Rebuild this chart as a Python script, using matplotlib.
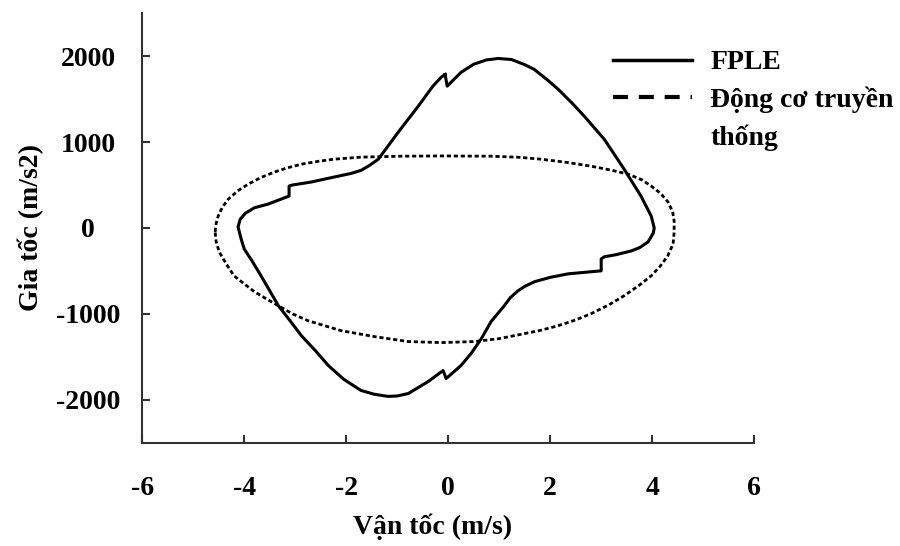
import matplotlib
matplotlib.use("Agg")
import matplotlib.pyplot as plt
from matplotlib.lines import Line2D

plt.rcParams['font.family'] = ['Liberation Serif', 'DejaVu Serif']
plt.rcParams['font.weight'] = 'bold'
plt.rcParams['axes.labelweight'] = 'bold'
plt.rcParams['axes.unicode_minus'] = False

# FPLE loop: velocity (m/s) and acceleration (m/s2), clockwise from the top step
fple_v = [-0.06, -0.02, 0.25, 0.5, 0.75, 0.98, 1.24, 1.5, 1.69, 1.95, 2.16, 2.45, 2.67,
          3.06, 3.45, 3.78, 3.98, 4.04, 4.02, 3.92, 3.75, 3.59, 3.3, 3.06, 3.0, 3.0,
          2.7, 2.35, 2.0, 1.69, 1.5, 1.37, 1.22, 1.10, 0.84, 0.65, 0.45, 0.25, -0.04,
          -0.10, -0.39, -0.78, -1.0, -1.18, -1.45, -1.71, -2.05, -2.35, -2.6, -2.88,
          -3.1, -3.33, -3.5, -3.67, -3.85, -4.0, -4.06, -4.12, -4.08, -3.98, -3.8,
          -3.53, -3.12, -3.12, -3.06, -2.69, -2.24, -1.9, -1.71, -1.55, -1.37, -0.98,
          -0.59, -0.3, -0.14, -0.06]
fple_a = [1786, 1650, 1810, 1905, 1955, 1972, 1960, 1900, 1844, 1720, 1612, 1440, 1299,
          1032, 684, 371, 139, 0, -60, -162, -230, -267, -310, -336, -360, -499,
          -515, -534, -575, -626, -680, -731, -810, -905, -1090, -1288, -1460, -1601, -1752,
          -1659, -1786, -1926, -1955, -1960, -1935, -1891, -1760, -1601, -1430, -1253,
          -1080, -905, -730, -557, -380, -244, -128, 12, 100, 170, 235,
          278, 371, 487, 499, 534, 592, 635, 670, 725, 800, 1114,
          1415, 1650, 1752, 1786]

# conventional engine loop
motor_v = [-4.57, -4.55, -4.51, -4.43, -4.31, -4.13, -3.92, -3.68, -3.41, -3.15, -2.88,
           -2.55, -2.24, -1.71, -0.92, -0.14, 0.84, 1.4, 1.82, 2.3, 2.80, 3.2, 3.53,
           3.8, 3.98, 4.17, 4.31, 4.40, 4.43, 4.43, 4.41, 4.3, 4.15, 3.98, 3.75, 3.45,
           3.15, 2.80, 2.5, 2.16, 1.82, 1.49, 1.0, 0.51, -0.14, -0.78, -1.45, -2.1,
           -2.75, -3.05, -3.33, -3.58, -3.80, -4.0, -4.2, -4.35, -4.49, -4.55, -4.57]
motor_a = [-46, 50, 139, 240, 336, 430, 510, 585, 650, 700, 742,
           775, 800, 824, 835, 838, 835, 822, 800, 765, 719, 672, 626,
           560, 487, 400, 302, 190, 81, -50, -186, -330, -450, -557, -665, -789,
           -895, -998, -1070, -1137, -1190, -1230, -1288, -1322, -1334, -1322, -1264, -1195,
           -1079, -1000, -905, -820, -742, -650, -557, -420, -278, -160, -46]

x_ticks = [-6, -4, -2, 0, 2, 4, 6]
y_ticks = [-2000, -1000, 0, 1000, 2000]

fig = plt.figure(figsize=(9, 5.46), dpi=100)
ax = fig.add_axes([0.158, 0.189, 0.68, 0.787])

ax.plot(fple_v, fple_a, color='black', lw=2.2, solid_joinstyle='round')
ax.plot(motor_v, motor_a, color='black', lw=2.0, dashes=(1.5, 1.0))

ax.set_xlim(-6, 6)
ax.set_ylim(-2500, 2500)
ax.set_xticks(x_ticks)
ax.set_yticks(y_ticks)

for side in ['top', 'right']:
    ax.spines[side].set_visible(False)
for side in ['left', 'bottom']:
    ax.spines[side].set_linewidth(1.5)
    ax.spines[side].set_color('#333333')

ax.tick_params(axis='both', direction='in', length=6, width=1.5, color='#333333',
               labelsize=20)
ax.tick_params(axis='x', pad=24)
ax.tick_params(axis='y', pad=39)
for lab in ax.get_yticklabels():
    lab.set_horizontalalignment('center')

ax.set_xlabel('Vận tốc (m/s)', fontsize=20)
ax.set_ylabel('Gia tốc (m/s2)', fontsize=20)
ax.xaxis.set_label_coords(0.475, -0.165)
ax.yaxis.set_label_coords(-0.16, 0.5)

handles = [Line2D([], [], color='black', lw=2.5),
           Line2D([], [], color='black', lw=3, linestyle=(0, (3.6, 2.6))),
           Line2D([], [], color='none')]
labels = ['FPLE', 'Động cơ truyền', 'thống']
ax.legend(handles, labels, loc='upper left', bbox_to_anchor=(613 / 900, 1 - 50 / 546),
          bbox_transform=fig.transFigure, frameon=False, fontsize=20,
          handlelength=2.85, handletextpad=0.65, borderpad=0, borderaxespad=0,
          labelspacing=0.4)

fig.savefig('out.png', dpi=100)
